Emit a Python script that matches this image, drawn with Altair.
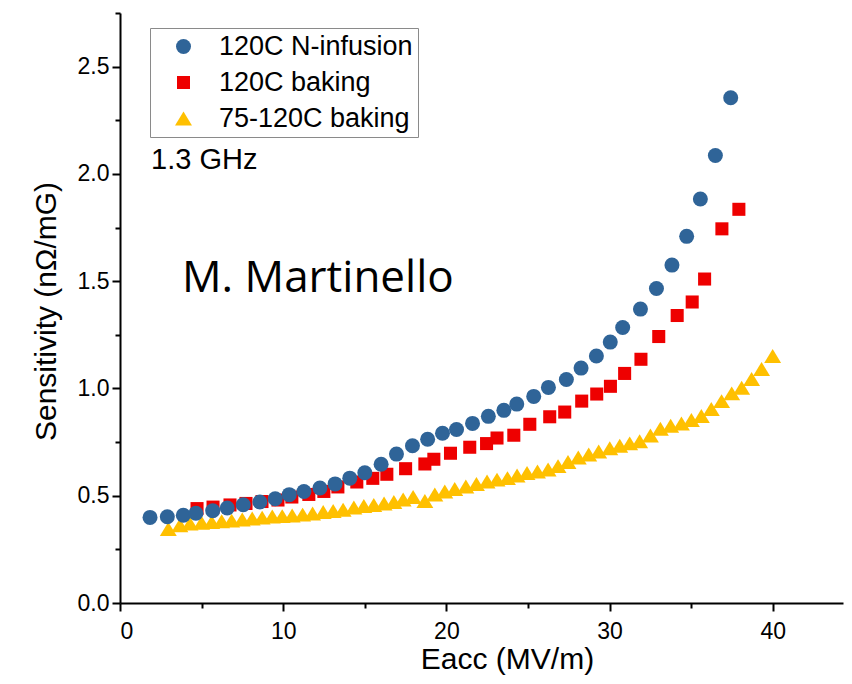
import altair as alt
import pandas as pd

series_names = ["120C N-infusion", "120C baking", "75-120C baking"]
series_colors = ["#2F6498", "#EE0000", "#FFC000"]
# circle, square, upward triangle (unit paths, scaled by the symbol size)
series_shapes = ["circle",
                 "M-0.87,-0.87L0.87,-0.87L0.87,0.87L-0.87,0.87Z",
                 "M0,-0.93L1.13,0.93L-1.13,0.93Z"]
symbol_size = 225

# 120C N-infusion (blue circles)
ninf_x = [1.84, 2.90, 3.88, 4.65, 5.68, 6.57, 7.55, 8.57, 9.51, 10.37,
          11.27, 12.25, 13.18, 14.08, 15.00, 16.00, 16.94, 17.92, 18.85, 19.76,
          20.62, 21.60, 22.57, 23.52, 24.31, 25.35, 26.25, 27.35, 28.25, 29.19,
          30.04, 30.80, 31.89, 32.87, 33.82, 34.72, 35.56, 36.48, 37.42]
ninf_y = [0.399, 0.402, 0.409, 0.418, 0.430, 0.443, 0.458, 0.471, 0.486, 0.505,
          0.520, 0.536, 0.555, 0.582, 0.607, 0.647, 0.694, 0.733, 0.763, 0.791,
          0.809, 0.837, 0.870, 0.898, 0.927, 0.963, 1.005, 1.042, 1.095, 1.151,
          1.216, 1.284, 1.370, 1.466, 1.575, 1.709, 1.883, 2.086, 2.355]

# 120C baking (red squares)
bake_x = [4.72, 5.70, 6.74, 7.72, 8.70, 9.68, 10.53, 11.57, 12.49, 13.35,
          14.51, 15.49, 16.35, 17.50, 18.68, 19.23, 20.25, 21.43, 22.46, 23.10,
          24.13, 25.11, 26.33, 27.25, 28.29, 29.21, 30.05, 30.92, 31.92, 33.01,
          34.14, 35.06, 35.82, 36.88, 37.92]
bake_y = [0.440, 0.447, 0.457, 0.464, 0.473, 0.480, 0.494, 0.506, 0.520, 0.541,
          0.564, 0.581, 0.600, 0.626, 0.648, 0.670, 0.698, 0.726, 0.743, 0.769,
          0.782, 0.833, 0.868, 0.890, 0.941, 0.974, 1.010, 1.070, 1.136, 1.242,
          1.340, 1.403, 1.510, 1.744, 1.835]

# 75-120C baking (yellow triangles)
low_x = [2.96, 3.67, 4.29, 5.00, 5.62, 6.23, 6.84, 7.49, 8.10, 8.71,
         9.33, 9.94, 10.55, 11.19, 11.80, 12.45, 13.06, 13.67, 14.33, 14.94,
         15.55, 16.18, 16.78, 17.35, 17.96, 18.68, 19.29, 19.90, 20.51, 21.19,
         21.84, 22.49, 23.10, 23.74, 24.33, 24.94, 25.58, 26.23, 26.84, 27.45,
         28.08, 28.72, 29.33, 30.01, 30.62, 31.23, 31.84, 32.50, 33.11, 33.74,
         34.40, 35.01, 35.62, 36.23, 36.86, 37.48, 38.09, 38.70, 39.31, 39.99]
low_y = [0.345, 0.362, 0.370, 0.374, 0.377, 0.381, 0.384, 0.389, 0.394, 0.398,
         0.403, 0.405, 0.408, 0.412, 0.417, 0.424, 0.429, 0.435, 0.445, 0.452,
         0.457, 0.464, 0.471, 0.482, 0.494, 0.475, 0.506, 0.520, 0.531, 0.543,
         0.555, 0.566, 0.575, 0.582, 0.594, 0.606, 0.613, 0.622, 0.638, 0.657,
         0.678, 0.692, 0.706, 0.721, 0.733, 0.744, 0.754, 0.781, 0.812, 0.826,
         0.837, 0.853, 0.872, 0.904, 0.941, 0.977, 1.003, 1.044, 1.091, 1.151]

x_ticks = [0, 5, 10, 15, 20, 25, 30, 35, 40]
y_ticks = [0.0, 0.25, 0.5, 0.75, 1.0, 1.25, 1.5, 1.75, 2.0, 2.25, 2.5, 2.75]
x_domain = [0, 44.3]
y_domain = [0, 2.75]

note_text = ["1.3 GHz"]
note_x = [1.9]
note_y = [2.023]
author_text = ["M. Martinello"]
author_x = [3.80]
author_y = [1.450]

# draw order: triangles at the bottom, circles on top
rows = []
for name, xs, ys in [(series_names[2], low_x, low_y),
                     (series_names[1], bake_x, bake_y),
                     (series_names[0], ninf_x, ninf_y)]:
    rows += [{"series": name, "Eacc": a, "S": b} for a, b in zip(xs, ys)]
df = pd.DataFrame(rows)

FONT = "Liberation Sans"

x_enc = alt.X(
    "Eacc:Q",
    scale=alt.Scale(domain=x_domain, nice=False, zero=False),
    axis=alt.Axis(
        title="Eacc (MV/m)", values=x_ticks, format="d",
        labelExpr="datum.value % 10 === 0 ? datum.label : ''",
        tickSize={"condition": {"test": "datum.value % 10 === 0", "value": 8}, "value": 5},
        titleX=387, titlePadding=1, labelPadding=9,
    ),
)
y_enc = alt.Y(
    "S:Q",
    scale=alt.Scale(domain=y_domain, nice=False, zero=False),
    axis=alt.Axis(
        title="Sensitivity (nΩ/mG)", values=y_ticks, format=".1f",
        labelExpr="datum.value % 0.5 === 0 ? datum.label : ''",
        tickSize={"condition": {"test": "datum.value % 0.5 === 0", "value": 8}, "value": 5},
        labelPadding=3, titlePadding=16, titleY=298,
    ),
)

legend = alt.Legend(
    title=None, orient="none", legendX=30, legendY=15,
    strokeColor="#8a8a8a", fillColor="white", padding=5,
    symbolOffset=15, labelOffset=22, rowPadding=8, labelLimit=0,
    labelFont=FONT, labelFontSize=27, labelColor="black",
    symbolStrokeWidth=0, symbolOpacity=1, symbolSize=symbol_size,
)

points = alt.Chart(df).mark_point(
    filled=True, opacity=1, strokeWidth=0, size=symbol_size
).encode(
    x=x_enc,
    y=y_enc,
    color=alt.Color("series:N", scale=alt.Scale(domain=series_names, range=series_colors), legend=legend),
    shape=alt.Shape("series:N", scale=alt.Scale(domain=series_names, range=series_shapes), legend=legend),
)

note = alt.Chart(pd.DataFrame({"t": note_text, "x": note_x, "y": note_y})).mark_text(
    align="left", baseline="alphabetic", font=FONT, fontSize=29, color="black"
).encode(x="x:Q", y="y:Q", text="t:N")

author = alt.Chart(pd.DataFrame({"t": author_text, "x": author_x, "y": author_y})).mark_text(
    align="left", baseline="alphabetic", font="Open Sans", fontSize=44, color="black"
).encode(x="x:Q", y="y:Q", text="t:N")

chart = alt.layer(points, note, author).properties(
    width=723, height=590,
    padding={"left": 112, "top": 5, "right": 1, "bottom": 73},
    autosize=alt.AutoSizeParams(type="none"),
    background="white",
).configure_view(stroke=None).configure_axis(
    grid=False, domainColor="black", domainWidth=2, tickColor="black", tickWidth=2,
    labelFont=FONT, labelFontSize=23, labelColor="black",
    titleFont=FONT, titleFontSize=30, titleFontWeight="normal", titleColor="black",
)

chart.save("out.html", embed_options={"renderer": "svg", "actions": False})
